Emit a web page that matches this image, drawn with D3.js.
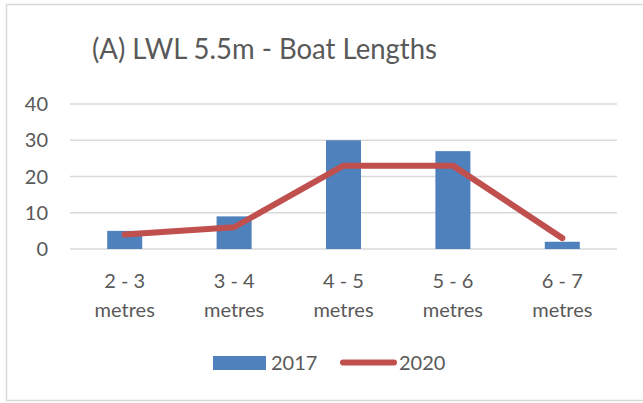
<!DOCTYPE html>
<html>
<head>
<meta charset="utf-8">
<script src="https://cdn.jsdelivr.net/npm/d3@7"></script>
<style>
  html, body { margin: 0; padding: 0; background: #fff; }
  svg { display: block; }
  text { font-family: Lato, "Open Sans", sans-serif; fill: #595959; }
</style>
</head>
<body>
<svg id="chart" width="643" height="403"></svg>
<script>
// Boat length bands and counts per survey year
const categories = ["2 - 3 metres", "3 - 4 metres", "4 - 5 metres", "5 - 6 metres", "6 - 7 metres"];
const counts2017 = [5, 9, 30, 27, 2];
const counts2020 = [4, 6, 23, 23, 3];
const yTicks = [0, 10, 20, 30, 40];
const seriesNames = ["2017", "2020"];
const titleText = "(A) LWL 5.5m - Boat Lengths";

const barColor = "#4F81BD";
const lineColor = "#C0504D";
const gridColor = "#D9D9D9";

const svg = d3.select("#chart");
const W = 643, H = 403;
const plot = { left: 70, right: 617, top: 104, bottom: 249 };

// Outer chart frame
svg.append("rect")
  .attr("x", 6.5).attr("y", 4.5)
  .attr("width", W + 10).attr("height", 396)
  .attr("fill", "#fff").attr("stroke", gridColor).attr("stroke-width", 1.5);

// Title, condensed slightly to a fixed span
svg.append("text")
  .attr("x", 264.5).attr("y", 59)
  .attr("text-anchor", "middle")
  .attr("textLength", 345)
  .attr("lengthAdjust", "spacingAndGlyphs")
  .style("font-size", "28px")
  .text(titleText);

const x = d3.scaleBand().domain(categories).range([plot.left, plot.right]).paddingInner(0.68).paddingOuter(0.34);
const y = d3.scaleLinear().domain([0, 40]).range([plot.bottom, plot.top]);

// Horizontal gridlines
svg.append("g").selectAll("line").data(yTicks).join("line")
  .attr("x1", plot.left).attr("x2", plot.right)
  .attr("y1", d => y(d)).attr("y2", d => y(d))
  .attr("stroke", gridColor).attr("stroke-width", 1.5);

const bodySize = "20px";

// Y axis labels
svg.append("g").selectAll("text").data(yTicks).join("text")
  .attr("x", 48)
  .attr("y", d => y(d))
  .attr("dy", "0.36em")
  .attr("text-anchor", "end")
  .style("font-size", bodySize)
  .text(d => d3.format("d")(d));

// Bars for 2017
svg.append("g").selectAll("rect").data(categories).join("rect")
  .attr("x", d => x(d))
  .attr("width", x.bandwidth())
  .attr("y", (d, i) => y(counts2017[i]))
  .attr("height", (d, i) => y(0) - y(counts2017[i]))
  .attr("fill", barColor);

// Line for 2020
const cx = d => x(d) + x.bandwidth() / 2;
const line = d3.line().x(d => cx(d[0])).y(d => y(d[1]));
svg.append("path")
  .datum(categories.map((c, i) => [c, counts2020[i]]))
  .attr("d", line)
  .attr("fill", "none")
  .attr("stroke", lineColor)
  .attr("stroke-width", 6)
  .attr("stroke-linejoin", "round")
  .attr("stroke-linecap", "round");

// Category labels (two lines each)
const xl = svg.append("g").selectAll("text").data(categories).join("text")
  .attr("text-anchor", "middle")
  .style("font-size", bodySize);
xl.each(function(d) {
  const parts = d.split(" metres");
  const t = d3.select(this);
  t.append("tspan").attr("x", cx(d)).attr("y", 288).text(parts[0]);
  t.append("tspan").attr("x", cx(d)).attr("y", 317).text("metres");
});

// Legend
const lg = svg.append("g");
lg.append("rect").attr("x", 213).attr("y", 356).attr("width", 53).attr("height", 14).attr("fill", barColor);
lg.append("text").attr("x", 271).attr("y", 370).style("font-size", bodySize).text(seriesNames[0]);
lg.append("line").attr("x1", 343).attr("x2", 394).attr("y1", 362.5).attr("y2", 362.5)
  .attr("stroke", lineColor).attr("stroke-width", 6).attr("stroke-linecap", "round");
lg.append("text").attr("x", 399).attr("y", 370).style("font-size", bodySize).text(seriesNames[1]);
</script>
</body>
</html>
